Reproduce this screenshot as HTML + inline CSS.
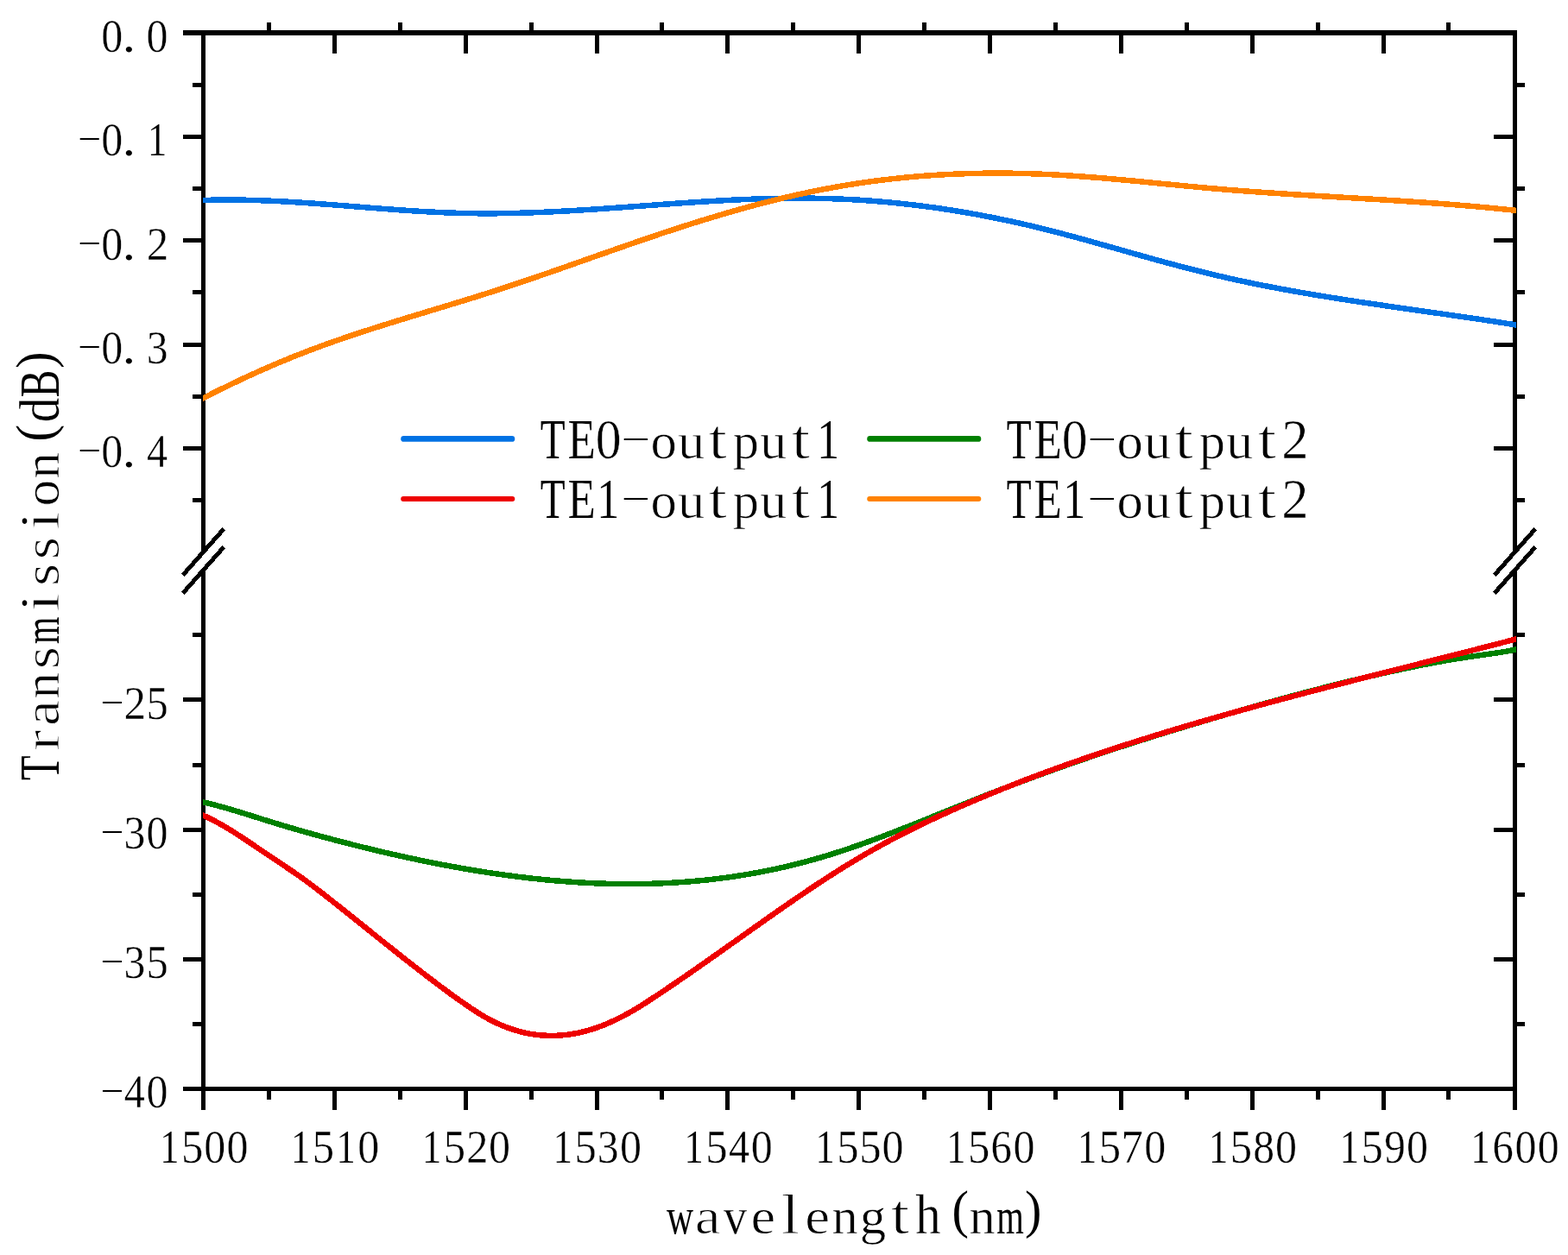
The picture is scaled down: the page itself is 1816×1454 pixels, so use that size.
<!DOCTYPE html>
<html lang="en"><head><meta charset="utf-8"><title>Transmission(dB) vs wavelength(nm)</title>
<style>html,body{margin:0;padding:0;background:#fff}body{width:1816px;height:1454px;overflow:hidden}svg{display:block}text{font-family:"Liberation Serif","Noto Serif CJK SC",serif;fill:#000}</style></head><body>
<svg width="1816" height="1454" viewBox="0 0 1816 1454" role="img" aria-label="Transmission(dB) versus wavelength(nm)">
<desc>Line chart with a broken y axis. x axis: wavelength(nm), 1500 to 1600. y axis: Transmission(dB), 0.0 to -0.4 and -25 to -40. Series: TE0-output1, TE0-output2, TE1-output1, TE1-output2.</desc>
<rect x="0" y="0" width="1816" height="1454" fill="#fff"/>
<g fill="#000" shape-rendering="crispEdges">
<rect x="233" y="35" width="1524" height="6"/>
<rect x="233" y="1259" width="1524" height="5"/>
<rect x="233" y="35" width="5" height="604.5"/>
<rect x="233" y="660.5" width="5" height="603.5"/>
<rect x="1752" y="35" width="5" height="604.5"/>
<rect x="1752" y="660.5" width="5" height="603.5"/>
<rect x="233" y="1264" width="5" height="22"/>
<rect x="233" y="41" width="5" height="21"/>
<rect x="309" y="1264" width="5" height="10"/>
<rect x="309" y="26" width="5" height="9"/>
<rect x="385" y="1264" width="5" height="22"/>
<rect x="385" y="41" width="5" height="21"/>
<rect x="461" y="1264" width="5" height="10"/>
<rect x="461" y="26" width="5" height="9"/>
<rect x="537" y="1264" width="5" height="22"/>
<rect x="537" y="41" width="5" height="21"/>
<rect x="613" y="1264" width="5" height="10"/>
<rect x="613" y="26" width="5" height="9"/>
<rect x="689" y="1264" width="5" height="22"/>
<rect x="689" y="41" width="5" height="21"/>
<rect x="764" y="1264" width="5" height="10"/>
<rect x="764" y="26" width="5" height="9"/>
<rect x="840" y="1264" width="5" height="22"/>
<rect x="840" y="41" width="5" height="21"/>
<rect x="916" y="1264" width="5" height="10"/>
<rect x="916" y="26" width="5" height="9"/>
<rect x="992" y="1264" width="5" height="22"/>
<rect x="992" y="41" width="5" height="21"/>
<rect x="1068" y="1264" width="5" height="10"/>
<rect x="1068" y="26" width="5" height="9"/>
<rect x="1144" y="1264" width="5" height="22"/>
<rect x="1144" y="41" width="5" height="21"/>
<rect x="1220" y="1264" width="5" height="10"/>
<rect x="1220" y="26" width="5" height="9"/>
<rect x="1296" y="1264" width="5" height="22"/>
<rect x="1296" y="41" width="5" height="21"/>
<rect x="1372" y="1264" width="5" height="10"/>
<rect x="1372" y="26" width="5" height="9"/>
<rect x="1448" y="1264" width="5" height="22"/>
<rect x="1448" y="41" width="5" height="21"/>
<rect x="1524" y="1264" width="5" height="10"/>
<rect x="1524" y="26" width="5" height="9"/>
<rect x="1600" y="1264" width="5" height="22"/>
<rect x="1600" y="41" width="5" height="21"/>
<rect x="1675" y="1264" width="5" height="10"/>
<rect x="1675" y="26" width="5" height="9"/>
<rect x="1752" y="1264" width="5" height="22"/>
<rect x="1752" y="41" width="5" height="21"/>
<rect x="212" y="35" width="21" height="6"/>
<rect x="1730" y="35" width="22" height="6"/>
<rect x="212" y="156" width="21" height="5"/>
<rect x="1730" y="156" width="22" height="5"/>
<rect x="212" y="276" width="21" height="5"/>
<rect x="1730" y="276" width="22" height="5"/>
<rect x="212" y="397" width="21" height="5"/>
<rect x="1730" y="397" width="22" height="5"/>
<rect x="212" y="517" width="21" height="5"/>
<rect x="1730" y="517" width="22" height="5"/>
<rect x="212" y="1259" width="21" height="5"/>
<rect x="1730" y="1259" width="22" height="5"/>
<rect x="212" y="1109" width="21" height="5"/>
<rect x="1730" y="1109" width="22" height="5"/>
<rect x="212" y="959" width="21" height="5"/>
<rect x="1730" y="959" width="22" height="5"/>
<rect x="212" y="808" width="21" height="5"/>
<rect x="1730" y="808" width="22" height="5"/>
<rect x="223" y="96" width="10" height="5"/>
<rect x="1757" y="96" width="9" height="5"/>
<rect x="223" y="216" width="10" height="5"/>
<rect x="1757" y="216" width="9" height="5"/>
<rect x="223" y="336" width="10" height="5"/>
<rect x="1757" y="336" width="9" height="5"/>
<rect x="223" y="457" width="10" height="5"/>
<rect x="1757" y="457" width="9" height="5"/>
<rect x="223" y="577" width="10" height="5"/>
<rect x="1757" y="577" width="9" height="5"/>
<rect x="223" y="1184" width="10" height="5"/>
<rect x="1757" y="1184" width="9" height="5"/>
<rect x="223" y="1034" width="10" height="5"/>
<rect x="1757" y="1034" width="9" height="5"/>
<rect x="223" y="884" width="10" height="5"/>
<rect x="1757" y="884" width="9" height="5"/>
<rect x="223" y="733" width="10" height="5"/>
<rect x="1757" y="733" width="9" height="5"/>
</g>
<g stroke="#000" stroke-width="5" stroke-linecap="butt" fill="none" shape-rendering="crispEdges">
<line x1="211.7" y1="666.35" x2="259.3" y2="612.65"/>
<line x1="211.7" y1="687.35" x2="259.3" y2="633.65"/>
<line x1="1730.7" y1="666.35" x2="1778.3" y2="612.65"/>
<line x1="1730.7" y1="687.35" x2="1778.3" y2="633.65"/>
</g>
<clipPath id="plotclip"><rect x="235" y="0" width="1521" height="1454"/></clipPath>
<g fill="none" stroke-width="6.5" stroke-linejoin="round" stroke-linecap="butt" shape-rendering="crispEdges" clip-path="url(#plotclip)">
<path stroke="#0072e4" d="M229,232.22 232,232.1 235,232 238,231.9 241,231.82 244,231.75 247,231.68 250,231.63 253,231.59 256,231.56 259,231.54 262,231.53 265,231.53 268,231.54 271,231.56 274,231.59 277,231.62 280,231.67 283,231.72 286,231.79 289,231.86 292,231.94 295,232.02 298,232.12 301,232.22 304,232.33 307,232.44 310,232.56 313,232.69 316,232.83 319,232.97 322,233.12 325,233.27 328,233.43 331,233.6 334,233.77 337,233.94 340,234.12 343,234.31 346,234.49 349,234.69 352,234.89 355,235.09 358,235.29 361,235.5 364,235.71 367,235.93 370,236.15 373,236.37 376,236.59 379,236.82 382,237.04 385,237.27 388,237.5 391,237.74 394,237.97 397,238.21 400,238.44 403,238.68 406,238.92 409,239.16 412,239.4 415,239.63 418,239.87 421,240.11 424,240.35 427,240.59 430,240.82 433,241.06 436,241.29 439,241.52 442,241.75 445,241.98 448,242.2 451,242.43 454,242.65 457,242.87 460,243.08 463,243.29 466,243.5 469,243.71 472,243.91 475,244.11 478,244.3 481,244.49 484,244.68 487,244.86 490,245.03 493,245.2 496,245.37 499,245.53 502,245.68 505,245.83 508,245.97 511,246.11 514,246.24 517,246.36 520,246.48 523,246.59 526,246.69 529,246.79 532,246.87 535,246.95 538,247.02 541,247.09 544,247.14 547,247.19 550,247.23 553,247.26 556,247.28 559,247.3 562,247.31 565,247.31 568,247.3 571,247.29 574,247.27 577,247.24 580,247.21 583,247.17 586,247.12 589,247.07 592,247.01 595,246.94 598,246.87 601,246.79 604,246.71 607,246.62 610,246.52 613,246.42 616,246.32 619,246.21 622,246.09 625,245.97 628,245.84 631,245.71 634,245.58 637,245.44 640,245.3 643,245.15 646,245 649,244.84 652,244.68 655,244.52 658,244.35 661,244.18 664,244.01 667,243.83 670,243.65 673,243.46 676,243.28 679,243.09 682,242.9 685,242.7 688,242.51 691,242.31 694,242.11 697,241.9 700,241.7 703,241.49 706,241.28 709,241.07 712,240.86 715,240.65 718,240.43 721,240.22 724,240 727,239.78 730,239.57 733,239.35 736,239.13 739,238.91 742,238.69 745,238.47 748,238.25 751,238.03 754,237.81 757,237.59 760,237.38 763,237.16 766,236.94 769,236.72 772,236.51 775,236.29 778,236.08 781,235.87 784,235.66 787,235.45 790,235.24 793,235.04 796,234.83 799,234.63 802,234.43 805,234.24 808,234.04 811,233.85 814,233.66 817,233.48 820,233.29 823,233.11 826,232.93 829,232.76 832,232.59 835,232.42 838,232.26 841,232.1 844,231.94 847,231.79 850,231.64 853,231.5 856,231.36 859,231.22 862,231.09 865,230.97 868,230.85 871,230.73 874,230.62 877,230.51 880,230.41 883,230.32 886,230.23 889,230.15 892,230.07 895,230 898,229.93 901,229.87 904,229.82 907,229.77 910,229.73 913,229.69 916,229.67 919,229.65 922,229.63 925,229.63 928,229.63 931,229.64 934,229.65 937,229.67 940,229.71 943,229.74 946,229.79 949,229.85 952,229.91 955,229.98 958,230.06 961,230.15 964,230.24 967,230.35 970,230.46 973,230.58 976,230.71 979,230.85 982,231 985,231.15 988,231.32 991,231.49 994,231.67 997,231.85 1000,232.05 1003,232.26 1006,232.47 1009,232.69 1012,232.92 1015,233.15 1018,233.4 1021,233.65 1024,233.91 1027,234.18 1030,234.46 1033,234.75 1036,235.04 1039,235.34 1042,235.65 1045,235.97 1048,236.3 1051,236.63 1054,236.97 1057,237.32 1060,237.68 1063,238.05 1066,238.42 1069,238.81 1072,239.2 1075,239.59 1078,240 1081,240.41 1084,240.84 1087,241.27 1090,241.7 1093,242.15 1096,242.6 1099,243.06 1102,243.53 1105,244.01 1108,244.5 1111,244.99 1114,245.49 1117,246 1120,246.51 1123,247.04 1126,247.57 1129,248.11 1132,248.65 1135,249.21 1138,249.77 1141,250.34 1144,250.92 1147,251.51 1150,252.1 1153,252.7 1156,253.31 1159,253.92 1162,254.55 1165,255.18 1168,255.82 1171,256.46 1174,257.12 1177,257.78 1180,258.45 1183,259.13 1186,259.81 1189,260.5 1192,261.2 1195,261.91 1198,262.62 1201,263.35 1204,264.07 1207,264.81 1210,265.56 1213,266.31 1216,267.07 1219,267.83 1222,268.6 1225,269.38 1228,270.16 1231,270.95 1234,271.75 1237,272.55 1240,273.35 1243,274.16 1246,274.98 1249,275.8 1252,276.62 1255,277.44 1258,278.27 1261,279.11 1264,279.94 1267,280.78 1270,281.62 1273,282.46 1276,283.31 1279,284.15 1282,285 1285,285.85 1288,286.7 1291,287.55 1294,288.4 1297,289.24 1300,290.09 1303,290.94 1306,291.79 1309,292.64 1312,293.49 1315,294.33 1318,295.17 1321,296.01 1324,296.85 1327,297.69 1330,298.53 1333,299.36 1336,300.19 1339,301.01 1342,301.84 1345,302.66 1348,303.48 1351,304.29 1354,305.1 1357,305.91 1360,306.71 1363,307.51 1366,308.3 1369,309.09 1372,309.87 1375,310.65 1378,311.43 1381,312.19 1384,312.96 1387,313.71 1390,314.47 1393,315.21 1396,315.95 1399,316.68 1402,317.41 1405,318.13 1408,318.84 1411,319.55 1414,320.25 1417,320.94 1420,321.62 1423,322.3 1426,322.97 1429,323.64 1432,324.3 1435,324.95 1438,325.59 1441,326.23 1444,326.87 1447,327.49 1450,328.12 1453,328.73 1456,329.34 1459,329.94 1462,330.54 1465,331.14 1468,331.72 1471,332.31 1474,332.88 1477,333.46 1480,334.02 1483,334.58 1486,335.14 1489,335.69 1492,336.24 1495,336.78 1498,337.32 1501,337.86 1504,338.39 1507,338.91 1510,339.43 1513,339.95 1516,340.46 1519,340.97 1522,341.48 1525,341.98 1528,342.48 1531,342.97 1534,343.46 1537,343.95 1540,344.44 1543,344.92 1546,345.39 1549,345.87 1552,346.34 1555,346.81 1558,347.28 1561,347.74 1564,348.2 1567,348.66 1570,349.12 1573,349.57 1576,350.03 1579,350.48 1582,350.92 1585,351.37 1588,351.81 1591,352.26 1594,352.7 1597,353.14 1600,353.57 1603,354.01 1606,354.45 1609,354.88 1612,355.31 1615,355.74 1618,356.17 1621,356.6 1624,357.03 1627,357.46 1630,357.89 1633,358.32 1636,358.74 1639,359.17 1642,359.59 1645,360.02 1648,360.45 1651,360.87 1654,361.3 1657,361.72 1660,362.15 1663,362.58 1666,363 1669,363.43 1672,363.86 1675,364.29 1678,364.72 1681,365.15 1684,365.58 1687,366.02 1690,366.45 1693,366.89 1696,367.32 1699,367.76 1702,368.2 1705,368.64 1708,369.08 1711,369.53 1714,369.98 1717,370.42 1720,370.88 1723,371.33 1726,371.78 1729,372.24 1732,372.7 1735,373.16 1738,373.63 1741,374.1 1744,374.57 1747,375.04 1750,375.52 1753,376 1756,376.48 1759,376.96 1762,377.45"/>
<path stroke="#008000" d="M229,928.01 232,928.64 235,929.3 238,929.98 241,930.69 244,931.43 247,932.18 250,932.96 253,933.76 256,934.58 259,935.41 262,936.26 265,937.13 268,938 271,938.9 274,939.8 277,940.71 280,941.63 283,942.56 286,943.49 289,944.43 292,945.37 295,946.31 298,947.26 301,948.2 304,949.14 307,950.08 310,951.01 313,951.94 316,952.87 319,953.78 322,954.69 325,955.6 328,956.49 331,957.39 334,958.27 337,959.15 340,960.03 343,960.9 346,961.76 349,962.62 352,963.47 355,964.32 358,965.16 361,966 364,966.83 367,967.66 370,968.48 373,969.3 376,970.11 379,970.92 382,971.72 385,972.52 388,973.31 391,974.1 394,974.89 397,975.67 400,976.44 403,977.22 406,977.98 409,978.74 412,979.5 415,980.25 418,981 421,981.74 424,982.48 427,983.21 430,983.94 433,984.66 436,985.38 439,986.09 442,986.8 445,987.5 448,988.2 451,988.89 454,989.57 457,990.25 460,990.93 463,991.6 466,992.26 469,992.92 472,993.58 475,994.22 478,994.87 481,995.5 484,996.13 487,996.76 490,997.38 493,997.99 496,998.6 499,999.2 502,999.8 505,1000.39 508,1000.97 511,1001.55 514,1002.12 517,1002.69 520,1003.25 523,1003.8 526,1004.35 529,1004.89 532,1005.42 535,1005.95 538,1006.47 541,1006.99 544,1007.5 547,1008 550,1008.49 553,1008.98 556,1009.47 559,1009.94 562,1010.41 565,1010.87 568,1011.33 571,1011.78 574,1012.22 577,1012.65 580,1013.08 583,1013.5 586,1013.91 589,1014.32 592,1014.72 595,1015.11 598,1015.49 601,1015.87 604,1016.23 607,1016.59 610,1016.95 613,1017.29 616,1017.63 619,1017.96 622,1018.28 625,1018.59 628,1018.9 631,1019.2 634,1019.49 637,1019.77 640,1020.04 643,1020.31 646,1020.56 649,1020.81 652,1021.05 655,1021.28 658,1021.51 661,1021.72 664,1021.92 667,1022.12 670,1022.31 673,1022.49 676,1022.66 679,1022.82 682,1022.97 685,1023.12 688,1023.25 691,1023.37 694,1023.49 697,1023.6 700,1023.69 703,1023.78 706,1023.86 709,1023.93 712,1023.99 715,1024.04 718,1024.08 721,1024.11 724,1024.13 727,1024.14 730,1024.14 733,1024.13 736,1024.11 739,1024.09 742,1024.05 745,1024 748,1023.94 751,1023.87 754,1023.79 757,1023.7 760,1023.6 763,1023.49 766,1023.37 769,1023.23 772,1023.09 775,1022.94 778,1022.77 781,1022.6 784,1022.41 787,1022.22 790,1022.01 793,1021.79 796,1021.56 799,1021.32 802,1021.07 805,1020.8 808,1020.53 811,1020.24 814,1019.94 817,1019.64 820,1019.32 823,1018.98 826,1018.64 829,1018.28 832,1017.92 835,1017.54 838,1017.15 841,1016.75 844,1016.33 847,1015.91 850,1015.47 853,1015.02 856,1014.55 859,1014.08 862,1013.59 865,1013.09 868,1012.58 871,1012.06 874,1011.52 877,1010.97 880,1010.41 883,1009.83 886,1009.25 889,1008.65 892,1008.03 895,1007.41 898,1006.77 901,1006.12 904,1005.45 907,1004.77 910,1004.08 913,1003.38 916,1002.66 919,1001.93 922,1001.19 925,1000.43 928,999.66 931,998.87 934,998.07 937,997.26 940,996.44 943,995.6 946,994.74 949,993.88 952,993 955,992.1 958,991.19 961,990.27 964,989.33 967,988.39 970,987.42 973,986.45 976,985.47 979,984.47 982,983.46 985,982.44 988,981.41 991,980.37 994,979.32 997,978.25 1000,977.18 1003,976.1 1006,975.01 1009,973.92 1012,972.81 1015,971.7 1018,970.58 1021,969.45 1024,968.31 1027,967.17 1030,966.02 1033,964.86 1036,963.7 1039,962.54 1042,961.36 1045,960.19 1048,959.01 1051,957.82 1054,956.63 1057,955.44 1060,954.24 1063,953.04 1066,951.84 1069,950.63 1072,949.43 1075,948.22 1078,947.01 1081,945.8 1084,944.59 1087,943.37 1090,942.16 1093,940.95 1096,939.74 1099,938.52 1102,937.31 1105,936.1 1108,934.9 1111,933.69 1114,932.49 1117,931.29 1120,930.09 1123,928.89 1126,927.7 1129,926.5 1132,925.31 1135,924.13 1138,922.94 1141,921.76 1144,920.58 1147,919.41 1150,918.23 1153,917.06 1156,915.9 1159,914.73 1162,913.57 1165,912.42 1168,911.26 1171,910.11 1174,908.97 1177,907.82 1180,906.69 1183,905.55 1186,904.42 1189,903.29 1192,902.17 1195,901.05 1198,899.94 1201,898.83 1204,897.72 1207,896.62 1210,895.53 1213,894.44 1216,893.35 1219,892.27 1222,891.19 1225,890.12 1228,889.05 1231,887.98 1234,886.92 1237,885.86 1240,884.81 1243,883.77 1246,882.72 1249,881.68 1252,880.65 1255,879.62 1258,878.59 1261,877.56 1264,876.54 1267,875.53 1270,874.52 1273,873.51 1276,872.5 1279,871.5 1282,870.51 1285,869.51 1288,868.52 1291,867.54 1294,866.55 1297,865.57 1300,864.6 1303,863.62 1306,862.65 1309,861.69 1312,860.72 1315,859.76 1318,858.81 1321,857.85 1324,856.9 1327,855.96 1330,855.01 1333,854.07 1336,853.13 1339,852.19 1342,851.26 1345,850.33 1348,849.4 1351,848.48 1354,847.55 1357,846.63 1360,845.72 1363,844.8 1366,843.89 1369,842.98 1372,842.07 1375,841.17 1378,840.26 1381,839.36 1384,838.46 1387,837.57 1390,836.67 1393,835.78 1396,834.89 1399,834 1402,833.12 1405,832.23 1408,831.35 1411,830.47 1414,829.59 1417,828.72 1420,827.84 1423,826.97 1426,826.1 1429,825.23 1432,824.36 1435,823.5 1438,822.64 1441,821.78 1444,820.92 1447,820.06 1450,819.21 1453,818.36 1456,817.51 1459,816.67 1462,815.82 1465,814.98 1468,814.15 1471,813.31 1474,812.48 1477,811.65 1480,810.82 1483,810 1486,809.18 1489,808.36 1492,807.54 1495,806.73 1498,805.92 1501,805.11 1504,804.31 1507,803.51 1510,802.72 1513,801.92 1516,801.13 1519,800.34 1522,799.56 1525,798.78 1528,798 1531,797.23 1534,796.46 1537,795.7 1540,794.93 1543,794.17 1546,793.42 1549,792.67 1552,791.92 1555,791.18 1558,790.44 1561,789.7 1564,788.97 1567,788.24 1570,787.52 1573,786.8 1576,786.08 1579,785.37 1582,784.66 1585,783.96 1588,783.26 1591,782.57 1594,781.87 1597,781.19 1600,780.51 1603,779.83 1606,779.16 1609,778.49 1612,777.83 1615,777.17 1618,776.51 1621,775.87 1624,775.22 1627,774.58 1630,773.95 1633,773.33 1636,772.71 1639,772.09 1642,771.48 1645,770.88 1648,770.29 1651,769.7 1654,769.12 1657,768.54 1660,767.98 1663,767.42 1666,766.87 1669,766.33 1672,765.8 1675,765.27 1678,764.75 1681,764.25 1684,763.75 1687,763.26 1690,762.78 1693,762.31 1696,761.85 1699,761.4 1702,760.96 1705,760.53 1708,760.1 1711,759.68 1714,759.26 1717,758.85 1720,758.43 1723,758 1726,757.57 1729,757.13 1732,756.68 1735,756.21 1738,755.73 1741,755.24 1744,754.72 1747,754.18 1750,753.62 1753,753.03 1756,752.41 1759,751.76 1762,751.07"/>
<path stroke="#ee0000" d="M229,942 232,943.21 235,944.5 238,945.85 241,947.27 244,948.74 247,950.27 250,951.86 253,953.49 256,955.18 259,956.91 262,958.68 265,960.49 268,962.33 271,964.21 274,966.12 277,968.05 280,970.01 283,971.99 286,973.98 289,975.99 292,978.01 295,980.04 298,982.08 301,984.12 304,986.16 307,988.19 310,990.22 313,992.24 316,994.24 319,996.25 322,998.25 325,1000.25 328,1002.25 331,1004.26 334,1006.29 337,1008.32 340,1010.38 343,1012.45 346,1014.55 349,1016.67 352,1018.83 355,1021.02 358,1023.24 361,1025.48 364,1027.74 367,1030.03 370,1032.34 373,1034.66 376,1037 379,1039.36 382,1041.72 385,1044.09 388,1046.47 391,1048.85 394,1051.24 397,1053.63 400,1056.02 403,1058.42 406,1060.82 409,1063.22 412,1065.63 415,1068.03 418,1070.44 421,1072.84 424,1075.25 427,1077.65 430,1080.06 433,1082.47 436,1084.87 439,1087.27 442,1089.67 445,1092.07 448,1094.47 451,1096.86 454,1099.25 457,1101.63 460,1104.01 463,1106.39 466,1108.76 469,1111.13 472,1113.49 475,1115.84 478,1118.19 481,1120.53 484,1122.86 487,1125.19 490,1127.5 493,1129.81 496,1132.11 499,1134.4 502,1136.69 505,1138.96 508,1141.22 511,1143.47 514,1145.7 517,1147.92 520,1150.13 523,1152.31 526,1154.49 529,1156.64 532,1158.77 535,1160.88 538,1162.97 541,1165.04 544,1167.08 547,1169.09 550,1171.06 553,1172.99 556,1174.86 559,1176.68 562,1178.43 565,1180.11 568,1181.72 571,1183.26 574,1184.73 577,1186.12 580,1187.45 583,1188.71 586,1189.9 589,1191.02 592,1192.07 595,1193.06 598,1193.97 601,1194.82 604,1195.61 607,1196.32 610,1196.97 613,1197.55 616,1198.07 619,1198.52 622,1198.91 625,1199.23 628,1199.49 631,1199.68 634,1199.82 637,1199.88 640,1199.89 643,1199.83 646,1199.71 649,1199.52 652,1199.28 655,1198.97 658,1198.61 661,1198.18 664,1197.69 667,1197.15 670,1196.54 673,1195.87 676,1195.15 679,1194.36 682,1193.52 685,1192.62 688,1191.66 691,1190.65 694,1189.58 697,1188.45 700,1187.27 703,1186.03 706,1184.74 709,1183.4 712,1182 715,1180.55 718,1179.06 721,1177.52 724,1175.92 727,1174.29 730,1172.6 733,1170.87 736,1169.1 739,1167.29 742,1165.43 745,1163.54 748,1161.62 751,1159.67 754,1157.71 757,1155.74 760,1153.76 763,1151.77 766,1149.77 769,1147.76 772,1145.75 775,1143.73 778,1141.7 781,1139.66 784,1137.62 787,1135.57 790,1133.51 793,1131.45 796,1129.38 799,1127.3 802,1125.23 805,1123.14 808,1121.05 811,1118.96 814,1116.86 817,1114.76 820,1112.65 823,1110.54 826,1108.43 829,1106.32 832,1104.2 835,1102.08 838,1099.95 841,1097.83 844,1095.71 847,1093.58 850,1091.45 853,1089.32 856,1087.19 859,1085.06 862,1082.93 865,1080.8 868,1078.68 871,1076.55 874,1074.42 877,1072.3 880,1070.18 883,1068.06 886,1065.95 889,1063.83 892,1061.72 895,1059.62 898,1057.52 901,1055.42 904,1053.33 907,1051.24 910,1049.16 913,1047.08 916,1045.01 919,1042.95 922,1040.89 925,1038.84 928,1036.8 931,1034.77 934,1032.74 937,1030.72 940,1028.71 943,1026.71 946,1024.72 949,1022.74 952,1020.77 955,1018.81 958,1016.86 961,1014.93 964,1013 967,1011.08 970,1009.18 973,1007.29 976,1005.41 979,1003.55 982,1001.7 985,999.86 988,998.03 991,996.23 994,994.43 997,992.65 1000,990.89 1003,989.14 1006,987.41 1009,985.69 1012,983.99 1015,982.3 1018,980.63 1021,978.98 1024,977.34 1027,975.71 1030,974.1 1033,972.51 1036,970.92 1039,969.35 1042,967.79 1045,966.25 1048,964.72 1051,963.2 1054,961.69 1057,960.2 1060,958.71 1063,957.24 1066,955.78 1069,954.33 1072,952.89 1075,951.46 1078,950.05 1081,948.64 1084,947.24 1087,945.85 1090,944.47 1093,943.1 1096,941.73 1099,940.38 1102,939.03 1105,937.69 1108,936.36 1111,935.04 1114,933.72 1117,932.41 1120,931.11 1123,929.82 1126,928.53 1129,927.25 1132,925.98 1135,924.71 1138,923.45 1141,922.2 1144,920.95 1147,919.71 1150,918.48 1153,917.25 1156,916.03 1159,914.82 1162,913.61 1165,912.41 1168,911.22 1171,910.03 1174,908.85 1177,907.67 1180,906.5 1183,905.34 1186,904.18 1189,903.03 1192,901.88 1195,900.74 1198,899.61 1201,898.48 1204,897.35 1207,896.24 1210,895.12 1213,894.02 1216,892.92 1219,891.82 1222,890.73 1225,889.64 1228,888.56 1231,887.49 1234,886.42 1237,885.35 1240,884.29 1243,883.24 1246,882.19 1249,881.14 1252,880.1 1255,879.07 1258,878.03 1261,877.01 1264,875.98 1267,874.97 1270,873.95 1273,872.94 1276,871.94 1279,870.94 1282,869.94 1285,868.95 1288,867.96 1291,866.97 1294,865.99 1297,865.02 1300,864.04 1303,863.07 1306,862.11 1309,861.15 1312,860.19 1315,859.23 1318,858.28 1321,857.34 1324,856.39 1327,855.45 1330,854.51 1333,853.58 1336,852.65 1339,851.72 1342,850.8 1345,849.88 1348,848.96 1351,848.05 1354,847.14 1357,846.23 1360,845.32 1363,844.42 1366,843.52 1369,842.63 1372,841.74 1375,840.85 1378,839.96 1381,839.07 1384,838.19 1387,837.32 1390,836.44 1393,835.57 1396,834.7 1399,833.83 1402,832.96 1405,832.1 1408,831.24 1411,830.39 1414,829.53 1417,828.68 1420,827.83 1423,826.98 1426,826.14 1429,825.29 1432,824.45 1435,823.62 1438,822.78 1441,821.95 1444,821.12 1447,820.29 1450,819.46 1453,818.64 1456,817.81 1459,816.99 1462,816.17 1465,815.36 1468,814.54 1471,813.73 1474,812.92 1477,812.11 1480,811.3 1483,810.49 1486,809.69 1489,808.89 1492,808.09 1495,807.29 1498,806.49 1501,805.7 1504,804.9 1507,804.11 1510,803.32 1513,802.53 1516,801.74 1519,800.95 1522,800.17 1525,799.38 1528,798.6 1531,797.82 1534,797.04 1537,796.26 1540,795.48 1543,794.7 1546,793.93 1549,793.15 1552,792.38 1555,791.6 1558,790.83 1561,790.06 1564,789.29 1567,788.52 1570,787.75 1573,786.99 1576,786.22 1579,785.45 1582,784.69 1585,783.92 1588,783.16 1591,782.4 1594,781.63 1597,780.87 1600,780.11 1603,779.35 1606,778.59 1609,777.83 1612,777.07 1615,776.31 1618,775.55 1621,774.79 1624,774.03 1627,773.27 1630,772.51 1633,771.75 1636,770.99 1639,770.24 1642,769.48 1645,768.72 1648,767.96 1651,767.2 1654,766.45 1657,765.69 1660,764.93 1663,764.17 1666,763.41 1669,762.65 1672,761.89 1675,761.13 1678,760.37 1681,759.61 1684,758.85 1687,758.09 1690,757.33 1693,756.57 1696,755.8 1699,755.04 1702,754.28 1705,753.51 1708,752.75 1711,751.98 1714,751.22 1717,750.45 1720,749.68 1723,748.91 1726,748.14 1729,747.37 1732,746.6 1735,745.83 1738,745.05 1741,744.28 1744,743.5 1747,742.73 1750,741.95 1753,741.17 1756,740.39 1759,739.61 1762,738.83"/>
<path stroke="#ff8200" d="M229,464.64 232,463.08 235,461.52 238,459.97 241,458.43 244,456.9 247,455.38 250,453.88 253,452.38 256,450.89 259,449.4 262,447.93 265,446.47 268,445.02 271,443.58 274,442.15 277,440.73 280,439.32 283,437.91 286,436.52 289,435.14 292,433.77 295,432.41 298,431.06 301,429.72 304,428.38 307,427.06 310,425.75 313,424.45 316,423.16 319,421.88 322,420.61 325,419.35 328,418.1 331,416.86 334,415.63 337,414.41 340,413.2 343,412.01 346,410.82 349,409.64 352,408.48 355,407.32 358,406.17 361,405.04 364,403.91 367,402.8 370,401.69 373,400.59 376,399.5 379,398.42 382,397.35 385,396.29 388,395.23 391,394.18 394,393.14 397,392.11 400,391.08 403,390.06 406,389.05 409,388.04 412,387.04 415,386.05 418,385.06 421,384.08 424,383.1 427,382.13 430,381.17 433,380.2 436,379.25 439,378.29 442,377.34 445,376.4 448,375.46 451,374.52 454,373.59 457,372.66 460,371.73 463,370.8 466,369.88 469,368.96 472,368.04 475,367.13 478,366.21 481,365.3 484,364.39 487,363.48 490,362.57 493,361.66 496,360.75 499,359.84 502,358.94 505,358.03 508,357.12 511,356.21 514,355.3 517,354.39 520,353.48 523,352.57 526,351.65 529,350.74 532,349.82 535,348.9 538,347.98 541,347.05 544,346.13 547,345.2 550,344.26 553,343.33 556,342.39 559,341.44 562,340.49 565,339.54 568,338.58 571,337.62 574,336.66 577,335.69 580,334.71 583,333.73 586,332.75 589,331.76 592,330.76 595,329.77 598,328.76 601,327.76 604,326.75 607,325.74 610,324.72 613,323.7 616,322.67 619,321.65 622,320.62 625,319.59 628,318.55 631,317.51 634,316.48 637,315.43 640,314.39 643,313.34 646,312.3 649,311.25 652,310.2 655,309.14 658,308.09 661,307.04 664,305.98 667,304.93 670,303.87 673,302.81 676,301.75 679,300.7 682,299.64 685,298.58 688,297.52 691,296.47 694,295.41 697,294.35 700,293.3 703,292.25 706,291.19 709,290.14 712,289.09 715,288.04 718,286.99 721,285.95 724,284.9 727,283.86 730,282.82 733,281.79 736,280.75 739,279.72 742,278.69 745,277.66 748,276.64 751,275.62 754,274.61 757,273.59 760,272.58 763,271.58 766,270.58 769,269.58 772,268.58 775,267.59 778,266.61 781,265.63 784,264.65 787,263.68 790,262.71 793,261.74 796,260.78 799,259.83 802,258.88 805,257.94 808,257 811,256.06 814,255.13 817,254.21 820,253.29 823,252.38 826,251.47 829,250.57 832,249.67 835,248.78 838,247.9 841,247.02 844,246.15 847,245.29 850,244.43 853,243.57 856,242.73 859,241.89 862,241.06 865,240.23 868,239.41 871,238.6 874,237.79 877,237 880,236.2 883,235.42 886,234.65 889,233.88 892,233.12 895,232.36 898,231.62 901,230.88 904,230.15 907,229.43 910,228.72 913,228.01 916,227.32 919,226.63 922,225.95 925,225.28 928,224.62 931,223.96 934,223.32 937,222.68 940,222.06 943,221.44 946,220.83 949,220.23 952,219.64 955,219.06 958,218.49 961,217.93 964,217.38 967,216.84 970,216.31 973,215.79 976,215.27 979,214.77 982,214.28 985,213.79 988,213.32 991,212.85 994,212.39 997,211.94 1000,211.51 1003,211.08 1006,210.66 1009,210.24 1012,209.84 1015,209.45 1018,209.07 1021,208.69 1024,208.32 1027,207.97 1030,207.62 1033,207.28 1036,206.95 1039,206.63 1042,206.31 1045,206.01 1048,205.71 1051,205.42 1054,205.15 1057,204.88 1060,204.62 1063,204.36 1066,204.12 1069,203.88 1072,203.66 1075,203.44 1078,203.23 1081,203.03 1084,202.83 1087,202.65 1090,202.47 1093,202.3 1096,202.14 1099,201.99 1102,201.85 1105,201.71 1108,201.58 1111,201.46 1114,201.35 1117,201.25 1120,201.15 1123,201.07 1126,200.99 1129,200.92 1132,200.85 1135,200.8 1138,200.75 1141,200.71 1144,200.68 1147,200.65 1150,200.64 1153,200.63 1156,200.63 1159,200.63 1162,200.65 1165,200.67 1168,200.7 1171,200.73 1174,200.78 1177,200.83 1180,200.89 1183,200.96 1186,201.03 1189,201.11 1192,201.2 1195,201.3 1198,201.4 1201,201.51 1204,201.63 1207,201.75 1210,201.88 1213,202.02 1216,202.17 1219,202.32 1222,202.48 1225,202.65 1228,202.82 1231,203 1234,203.18 1237,203.37 1240,203.56 1243,203.76 1246,203.97 1249,204.18 1252,204.4 1255,204.62 1258,204.84 1261,205.07 1264,205.31 1267,205.55 1270,205.79 1273,206.04 1276,206.29 1279,206.54 1282,206.8 1285,207.06 1288,207.32 1291,207.59 1294,207.86 1297,208.13 1300,208.41 1303,208.69 1306,208.96 1309,209.25 1312,209.53 1315,209.81 1318,210.1 1321,210.39 1324,210.68 1327,210.97 1330,211.26 1333,211.55 1336,211.84 1339,212.14 1342,212.43 1345,212.72 1348,213.02 1351,213.31 1354,213.6 1357,213.9 1360,214.19 1363,214.48 1366,214.77 1369,215.06 1372,215.35 1375,215.63 1378,215.92 1381,216.2 1384,216.48 1387,216.76 1390,217.04 1393,217.31 1396,217.58 1399,217.85 1402,218.12 1405,218.38 1408,218.64 1411,218.9 1414,219.16 1417,219.41 1420,219.65 1423,219.9 1426,220.14 1429,220.38 1432,220.62 1435,220.85 1438,221.08 1441,221.31 1444,221.53 1447,221.75 1450,221.98 1453,222.19 1456,222.41 1459,222.62 1462,222.83 1465,223.04 1468,223.25 1471,223.46 1474,223.66 1477,223.86 1480,224.06 1483,224.26 1486,224.45 1489,224.65 1492,224.84 1495,225.04 1498,225.23 1501,225.42 1504,225.6 1507,225.79 1510,225.98 1513,226.16 1516,226.35 1519,226.53 1522,226.71 1525,226.89 1528,227.07 1531,227.25 1534,227.43 1537,227.61 1540,227.79 1543,227.97 1546,228.15 1549,228.32 1552,228.5 1555,228.68 1558,228.86 1561,229.04 1564,229.21 1567,229.39 1570,229.57 1573,229.75 1576,229.93 1579,230.11 1582,230.29 1585,230.47 1588,230.65 1591,230.83 1594,231.01 1597,231.2 1600,231.38 1603,231.57 1606,231.75 1609,231.94 1612,232.13 1615,232.32 1618,232.51 1621,232.7 1624,232.9 1627,233.09 1630,233.29 1633,233.49 1636,233.69 1639,233.89 1642,234.1 1645,234.3 1648,234.51 1651,234.72 1654,234.93 1657,235.15 1660,235.36 1663,235.58 1666,235.8 1669,236.03 1672,236.26 1675,236.48 1678,236.72 1681,236.95 1684,237.19 1687,237.43 1690,237.67 1693,237.92 1696,238.17 1699,238.42 1702,238.67 1705,238.93 1708,239.2 1711,239.46 1714,239.73 1717,240 1720,240.28 1723,240.56 1726,240.84 1729,241.13 1732,241.42 1735,241.72 1738,242.01 1741,242.32 1744,242.62 1747,242.94 1750,243.25 1753,243.57 1756,243.9 1759,244.23 1762,244.56"/>
</g>
<g fill="none" stroke-linecap="round">
<line x1="467.65" y1="508.4" x2="592.85" y2="508.4" stroke="#0072e4" stroke-width="6.9"/>
<line x1="467.15" y1="578" x2="593.35" y2="578" stroke="#ee0000" stroke-width="5.9"/>
<line x1="1007.65" y1="508.4" x2="1132.85" y2="508.4" stroke="#008000" stroke-width="6.9"/>
<line x1="1007.15" y1="578" x2="1133.35" y2="578" stroke="#ff8200" stroke-width="5.9"/>
</g>
<text aria-label="TE0-output1" font-size="64.5" y="531" stroke="#fff" stroke-width="0"><tspan x="625.85" y="531" textLength="28.84" lengthAdjust="spacingAndGlyphs">T</tspan><tspan x="657.47" y="531" stroke-width="0.2" textLength="32.37" lengthAdjust="spacingAndGlyphs">E</tspan><tspan x="689.63" y="531" stroke-width="0.5" textLength="29.85" lengthAdjust="spacingAndGlyphs">0</tspan><tspan x="718.89" y="515.01" font-size="26.77" textLength="35.13" lengthAdjust="spacingAndGlyphs">-</tspan><tspan x="753.59" y="531" font-size="60.18" stroke-width="0.68" textLength="30.32" lengthAdjust="spacingAndGlyphs">o</tspan><tspan x="784.98" y="531" font-size="60.18" stroke-width="0.75" textLength="31.19" lengthAdjust="spacingAndGlyphs">u</tspan><tspan x="820.37" y="531" stroke-width="1.13" textLength="21.86" lengthAdjust="spacingAndGlyphs">t</tspan><tspan x="848.82" y="531" font-size="60.18" stroke-width="0.68" textLength="30.35" lengthAdjust="spacingAndGlyphs">p</tspan><tspan x="880.18" y="531" font-size="60.18" stroke-width="0.74" textLength="30.98" lengthAdjust="spacingAndGlyphs">u</tspan><tspan x="916.52" y="531" stroke-width="1.13" textLength="21.86" lengthAdjust="spacingAndGlyphs">t</tspan><tspan x="946.36" y="531" stroke-width="0.15" textLength="25.85" lengthAdjust="spacingAndGlyphs">1</tspan></text>
<text aria-label="TE0-output2" font-size="64.5" y="531" stroke="#fff" stroke-width="0"><tspan x="1165.85" y="531" textLength="28.84" lengthAdjust="spacingAndGlyphs">T</tspan><tspan x="1197.47" y="531" stroke-width="0.2" textLength="32.37" lengthAdjust="spacingAndGlyphs">E</tspan><tspan x="1229.63" y="531" stroke-width="0.5" textLength="29.85" lengthAdjust="spacingAndGlyphs">0</tspan><tspan x="1258.89" y="515.01" font-size="26.77" textLength="35.13" lengthAdjust="spacingAndGlyphs">-</tspan><tspan x="1293.59" y="531" font-size="60.18" stroke-width="0.68" textLength="30.32" lengthAdjust="spacingAndGlyphs">o</tspan><tspan x="1324.98" y="531" font-size="60.18" stroke-width="0.75" textLength="31.19" lengthAdjust="spacingAndGlyphs">u</tspan><tspan x="1360.37" y="531" stroke-width="1.13" textLength="21.86" lengthAdjust="spacingAndGlyphs">t</tspan><tspan x="1388.82" y="531" font-size="60.18" stroke-width="0.68" textLength="30.35" lengthAdjust="spacingAndGlyphs">p</tspan><tspan x="1420.18" y="531" font-size="60.18" stroke-width="0.74" textLength="30.98" lengthAdjust="spacingAndGlyphs">u</tspan><tspan x="1456.52" y="531" stroke-width="1.13" textLength="21.86" lengthAdjust="spacingAndGlyphs">t</tspan><tspan x="1484.15" y="531" stroke-width="0.62" textLength="31.31" lengthAdjust="spacingAndGlyphs">2</tspan></text>
<text aria-label="TE1-output1" font-size="64.5" y="600" stroke="#fff" stroke-width="0"><tspan x="625.85" y="600" textLength="28.84" lengthAdjust="spacingAndGlyphs">T</tspan><tspan x="657.47" y="600" stroke-width="0.2" textLength="32.37" lengthAdjust="spacingAndGlyphs">E</tspan><tspan x="691.23" y="600" stroke-width="0.16" textLength="25.99" lengthAdjust="spacingAndGlyphs">1</tspan><tspan x="718.89" y="584.01" font-size="26.77" textLength="35.13" lengthAdjust="spacingAndGlyphs">-</tspan><tspan x="753.59" y="600" font-size="60.18" stroke-width="0.68" textLength="30.32" lengthAdjust="spacingAndGlyphs">o</tspan><tspan x="784.98" y="600" font-size="60.18" stroke-width="0.75" textLength="31.19" lengthAdjust="spacingAndGlyphs">u</tspan><tspan x="820.37" y="600" stroke-width="1.13" textLength="21.86" lengthAdjust="spacingAndGlyphs">t</tspan><tspan x="848.82" y="600" font-size="60.18" stroke-width="0.68" textLength="30.35" lengthAdjust="spacingAndGlyphs">p</tspan><tspan x="880.18" y="600" font-size="60.18" stroke-width="0.74" textLength="30.98" lengthAdjust="spacingAndGlyphs">u</tspan><tspan x="916.52" y="600" stroke-width="1.13" textLength="21.86" lengthAdjust="spacingAndGlyphs">t</tspan><tspan x="946.36" y="600" stroke-width="0.15" textLength="25.85" lengthAdjust="spacingAndGlyphs">1</tspan></text>
<text aria-label="TE1-output2" font-size="64.5" y="600" stroke="#fff" stroke-width="0"><tspan x="1165.85" y="600" textLength="28.84" lengthAdjust="spacingAndGlyphs">T</tspan><tspan x="1197.47" y="600" stroke-width="0.2" textLength="32.37" lengthAdjust="spacingAndGlyphs">E</tspan><tspan x="1231.23" y="600" stroke-width="0.16" textLength="25.99" lengthAdjust="spacingAndGlyphs">1</tspan><tspan x="1258.89" y="584.01" font-size="26.77" textLength="35.13" lengthAdjust="spacingAndGlyphs">-</tspan><tspan x="1293.59" y="600" font-size="60.18" stroke-width="0.68" textLength="30.32" lengthAdjust="spacingAndGlyphs">o</tspan><tspan x="1324.98" y="600" font-size="60.18" stroke-width="0.75" textLength="31.19" lengthAdjust="spacingAndGlyphs">u</tspan><tspan x="1360.37" y="600" stroke-width="1.13" textLength="21.86" lengthAdjust="spacingAndGlyphs">t</tspan><tspan x="1388.82" y="600" font-size="60.18" stroke-width="0.68" textLength="30.35" lengthAdjust="spacingAndGlyphs">p</tspan><tspan x="1420.18" y="600" font-size="60.18" stroke-width="0.74" textLength="30.98" lengthAdjust="spacingAndGlyphs">u</tspan><tspan x="1456.52" y="600" stroke-width="1.13" textLength="21.86" lengthAdjust="spacingAndGlyphs">t</tspan><tspan x="1484.15" y="600" stroke-width="0.62" textLength="31.31" lengthAdjust="spacingAndGlyphs">2</tspan></text>
<text aria-label="wavelength(nm)" font-size="64.5" y="1428.8" stroke="#fff" stroke-width="0"><tspan x="771.96" y="1428.8" font-size="60.18" textLength="31.13" lengthAdjust="spacingAndGlyphs">w</tspan><tspan x="804.87" y="1428.8" font-size="60.18" stroke-width="0.97" textLength="29.92" lengthAdjust="spacingAndGlyphs">a</tspan><tspan x="838" y="1428.8" font-size="60.18" stroke-width="0.39" textLength="27" lengthAdjust="spacingAndGlyphs">v</tspan><tspan x="869.48" y="1428.8" font-size="60.18" stroke-width="0.85" textLength="28.66" lengthAdjust="spacingAndGlyphs">e</tspan><tspan x="904.57" y="1428.8" stroke-width="1.13" textLength="21.86" lengthAdjust="spacingAndGlyphs">l</tspan><tspan x="932.26" y="1428.8" font-size="60.18" stroke-width="0.87" textLength="28.9" lengthAdjust="spacingAndGlyphs">e</tspan><tspan x="963.61" y="1428.8" font-size="60.18" stroke-width="0.67" textLength="30.2" lengthAdjust="spacingAndGlyphs">n</tspan><tspan x="995.68" y="1428.8" font-size="60.18" stroke-width="0.69" textLength="30.48" lengthAdjust="spacingAndGlyphs">g</tspan><tspan x="1031.52" y="1428.8" stroke-width="1.13" textLength="21.86" lengthAdjust="spacingAndGlyphs">t</tspan><tspan x="1060.32" y="1428.8" stroke-width="0.46" textLength="29.45" lengthAdjust="spacingAndGlyphs">h</tspan><tspan x="1102.53" y="1421.8" font-size="61.92" textLength="19.45" lengthAdjust="spacingAndGlyphs">(</tspan><tspan x="1122.61" y="1428.8" font-size="60.18" stroke-width="0.67" textLength="30.2" lengthAdjust="spacingAndGlyphs">n</tspan><tspan x="1154.15" y="1428.8" font-size="60.18" textLength="31.59" lengthAdjust="spacingAndGlyphs">m</tspan><tspan x="1187.03" y="1421.8" font-size="61.92" textLength="19.32" lengthAdjust="spacingAndGlyphs">)</tspan></text>
<text aria-label="Transmission(dB)" font-size="64.5" y="68.2" transform="rotate(-90)" stroke="#fff" stroke-width="0"><tspan x="-903.95" y="68.2" textLength="28.62" lengthAdjust="spacingAndGlyphs">T</tspan><tspan x="-870.14" y="68.2" font-size="60.18" stroke-width="1.05" textLength="24.45" lengthAdjust="spacingAndGlyphs">r</tspan><tspan x="-841.13" y="68.2" font-size="60.18" stroke-width="0.97" textLength="29.92" lengthAdjust="spacingAndGlyphs">a</tspan><tspan x="-809.4" y="68.2" font-size="60.18" stroke-width="0.7" textLength="30.53" lengthAdjust="spacingAndGlyphs">n</tspan><tspan x="-775.28" y="68.2" font-size="60.18" stroke-width="0.97" textLength="26.23" lengthAdjust="spacingAndGlyphs">s</tspan><tspan x="-745.94" y="68.2" font-size="60.18" textLength="31.27" lengthAdjust="spacingAndGlyphs">m</tspan><tspan x="-708.72" y="68.2" stroke-width="1.13" textLength="21.38" lengthAdjust="spacingAndGlyphs">i</tspan><tspan x="-679.13" y="68.2" font-size="60.18" stroke-width="0.97" textLength="26.23" lengthAdjust="spacingAndGlyphs">s</tspan><tspan x="-648.18" y="68.2" font-size="60.18" stroke-width="0.97" textLength="26.23" lengthAdjust="spacingAndGlyphs">s</tspan><tspan x="-613.7" y="68.2" stroke-width="1.13" textLength="21.15" lengthAdjust="spacingAndGlyphs">i</tspan><tspan x="-586.44" y="68.2" font-size="60.18" stroke-width="0.71" textLength="30.67" lengthAdjust="spacingAndGlyphs">o</tspan><tspan x="-554.4" y="68.2" font-size="60.18" stroke-width="0.69" textLength="30.42" lengthAdjust="spacingAndGlyphs">n</tspan><tspan x="-511.83" y="61.2" font-size="61.92" textLength="19.97" lengthAdjust="spacingAndGlyphs">(</tspan><tspan x="-489.16" y="68.2" stroke-width="0.38" textLength="28.56" lengthAdjust="spacingAndGlyphs">d</tspan><tspan x="-460.48" y="68.2" textLength="31.91" lengthAdjust="spacingAndGlyphs">B</tspan><tspan x="-426.99" y="61.2" font-size="61.92" textLength="19.58" lengthAdjust="spacingAndGlyphs">)</tspan></text>
<text aria-label="1500" font-size="54.3" y="1346.7" stroke="#fff" stroke-width="0"><tspan x="185.21" y="1346.7" stroke-width="0.16" textLength="22.16" lengthAdjust="spacingAndGlyphs">1</tspan><tspan x="209.96" y="1346.7" stroke-width="0.43" textLength="25.32" lengthAdjust="spacingAndGlyphs">5</tspan><tspan x="236.19" y="1346.7" stroke-width="0.41" textLength="25.01" lengthAdjust="spacingAndGlyphs">0</tspan><tspan x="262.39" y="1346.7" stroke-width="0.41" textLength="25.01" lengthAdjust="spacingAndGlyphs">0</tspan></text>
<text aria-label="1510" font-size="54.3" y="1346.7" stroke="#fff" stroke-width="0"><tspan x="337.05" y="1346.7" stroke-width="0.16" textLength="22.16" lengthAdjust="spacingAndGlyphs">1</tspan><tspan x="361.8" y="1346.7" stroke-width="0.43" textLength="25.32" lengthAdjust="spacingAndGlyphs">5</tspan><tspan x="389.45" y="1346.7" stroke-width="0.16" textLength="22.16" lengthAdjust="spacingAndGlyphs">1</tspan><tspan x="414.23" y="1346.7" stroke-width="0.41" textLength="25.01" lengthAdjust="spacingAndGlyphs">0</tspan></text>
<text aria-label="1520" font-size="54.3" y="1346.7" stroke="#fff" stroke-width="0"><tspan x="488.89" y="1346.7" stroke-width="0.16" textLength="22.16" lengthAdjust="spacingAndGlyphs">1</tspan><tspan x="513.64" y="1346.7" stroke-width="0.43" textLength="25.32" lengthAdjust="spacingAndGlyphs">5</tspan><tspan x="540.03" y="1346.7" stroke-width="0.46" textLength="25.57" lengthAdjust="spacingAndGlyphs">2</tspan><tspan x="566.07" y="1346.7" stroke-width="0.41" textLength="25.01" lengthAdjust="spacingAndGlyphs">0</tspan></text>
<text aria-label="1530" font-size="54.3" y="1346.7" stroke="#fff" stroke-width="0"><tspan x="640.73" y="1346.7" stroke-width="0.16" textLength="22.16" lengthAdjust="spacingAndGlyphs">1</tspan><tspan x="665.48" y="1346.7" stroke-width="0.43" textLength="25.32" lengthAdjust="spacingAndGlyphs">5</tspan><tspan x="691.75" y="1346.7" stroke-width="0.39" textLength="24.81" lengthAdjust="spacingAndGlyphs">3</tspan><tspan x="717.91" y="1346.7" stroke-width="0.41" textLength="25.01" lengthAdjust="spacingAndGlyphs">0</tspan></text>
<text aria-label="1540" font-size="54.3" y="1346.7" stroke="#fff" stroke-width="0"><tspan x="792.57" y="1346.7" stroke-width="0.16" textLength="22.16" lengthAdjust="spacingAndGlyphs">1</tspan><tspan x="817.32" y="1346.7" stroke-width="0.43" textLength="25.32" lengthAdjust="spacingAndGlyphs">5</tspan><tspan x="843.92" y="1346.7" stroke-width="0.33" textLength="24.09" lengthAdjust="spacingAndGlyphs">4</tspan><tspan x="869.75" y="1346.7" stroke-width="0.41" textLength="25.01" lengthAdjust="spacingAndGlyphs">0</tspan></text>
<text aria-label="1550" font-size="54.3" y="1346.7" stroke="#fff" stroke-width="0"><tspan x="944.41" y="1346.7" stroke-width="0.16" textLength="22.16" lengthAdjust="spacingAndGlyphs">1</tspan><tspan x="969.16" y="1346.7" stroke-width="0.43" textLength="25.32" lengthAdjust="spacingAndGlyphs">5</tspan><tspan x="995.36" y="1346.7" stroke-width="0.43" textLength="25.32" lengthAdjust="spacingAndGlyphs">5</tspan><tspan x="1021.59" y="1346.7" stroke-width="0.41" textLength="25.01" lengthAdjust="spacingAndGlyphs">0</tspan></text>
<text aria-label="1560" font-size="54.3" y="1346.7" stroke="#fff" stroke-width="0"><tspan x="1096.25" y="1346.7" stroke-width="0.16" textLength="22.16" lengthAdjust="spacingAndGlyphs">1</tspan><tspan x="1121" y="1346.7" stroke-width="0.43" textLength="25.32" lengthAdjust="spacingAndGlyphs">5</tspan><tspan x="1147.45" y="1346.7" stroke-width="0.35" textLength="24.34" lengthAdjust="spacingAndGlyphs">6</tspan><tspan x="1173.43" y="1346.7" stroke-width="0.41" textLength="25.01" lengthAdjust="spacingAndGlyphs">0</tspan></text>
<text aria-label="1570" font-size="54.3" y="1346.7" stroke="#fff" stroke-width="0"><tspan x="1248.09" y="1346.7" stroke-width="0.16" textLength="22.16" lengthAdjust="spacingAndGlyphs">1</tspan><tspan x="1272.84" y="1346.7" stroke-width="0.43" textLength="25.32" lengthAdjust="spacingAndGlyphs">5</tspan><tspan x="1298.43" y="1346.7" stroke-width="0.44" textLength="25.41" lengthAdjust="spacingAndGlyphs">7</tspan><tspan x="1325.27" y="1346.7" stroke-width="0.41" textLength="25.01" lengthAdjust="spacingAndGlyphs">0</tspan></text>
<text aria-label="1580" font-size="54.3" y="1346.7" stroke="#fff" stroke-width="0"><tspan x="1399.93" y="1346.7" stroke-width="0.16" textLength="22.16" lengthAdjust="spacingAndGlyphs">1</tspan><tspan x="1424.68" y="1346.7" stroke-width="0.43" textLength="25.32" lengthAdjust="spacingAndGlyphs">5</tspan><tspan x="1451.13" y="1346.7" stroke-width="0.39" textLength="24.77" lengthAdjust="spacingAndGlyphs">8</tspan><tspan x="1477.11" y="1346.7" stroke-width="0.41" textLength="25.01" lengthAdjust="spacingAndGlyphs">0</tspan></text>
<text aria-label="1590" font-size="54.3" y="1346.7" stroke="#fff" stroke-width="0"><tspan x="1551.77" y="1346.7" stroke-width="0.16" textLength="22.16" lengthAdjust="spacingAndGlyphs">1</tspan><tspan x="1576.52" y="1346.7" stroke-width="0.43" textLength="25.32" lengthAdjust="spacingAndGlyphs">5</tspan><tspan x="1603.27" y="1346.7" stroke-width="0.37" textLength="24.6" lengthAdjust="spacingAndGlyphs">9</tspan><tspan x="1628.95" y="1346.7" stroke-width="0.41" textLength="25.01" lengthAdjust="spacingAndGlyphs">0</tspan></text>
<text aria-label="1600" font-size="54.3" y="1346.7" stroke="#fff" stroke-width="0"><tspan x="1703.61" y="1346.7" stroke-width="0.16" textLength="22.16" lengthAdjust="spacingAndGlyphs">1</tspan><tspan x="1728.61" y="1346.7" stroke-width="0.35" textLength="24.34" lengthAdjust="spacingAndGlyphs">6</tspan><tspan x="1754.59" y="1346.7" stroke-width="0.41" textLength="25.01" lengthAdjust="spacingAndGlyphs">0</tspan><tspan x="1780.79" y="1346.7" stroke-width="0.41" textLength="25.01" lengthAdjust="spacingAndGlyphs">0</tspan></text>
<text aria-label="0.0" font-size="54.3" y="59.8" stroke="#fff" stroke-width="0"><tspan x="117.19" y="59.8" stroke-width="0.41" textLength="25.01" lengthAdjust="spacingAndGlyphs">0</tspan><tspan x="141.8" y="59.8" textLength="15.2" lengthAdjust="spacingAndGlyphs">.</tspan><tspan x="169.59" y="59.8" stroke-width="0.41" textLength="25.01" lengthAdjust="spacingAndGlyphs">0</tspan></text>
<text aria-label="-0.1" font-size="54.3" y="180.18" stroke="#fff" stroke-width="0"><tspan x="89.64" y="167.28" font-size="26.77" textLength="28.33" lengthAdjust="spacingAndGlyphs">-</tspan><tspan x="117.19" y="180.18" stroke-width="0.41" textLength="25.01" lengthAdjust="spacingAndGlyphs">0</tspan><tspan x="141.8" y="180.18" textLength="15.2" lengthAdjust="spacingAndGlyphs">.</tspan><tspan x="171.01" y="180.18" stroke-width="0.16" textLength="22.16" lengthAdjust="spacingAndGlyphs">1</tspan></text>
<text aria-label="-0.2" font-size="54.3" y="300.55" stroke="#fff" stroke-width="0"><tspan x="89.64" y="287.66" font-size="26.77" textLength="28.33" lengthAdjust="spacingAndGlyphs">-</tspan><tspan x="117.19" y="300.55" stroke-width="0.41" textLength="25.01" lengthAdjust="spacingAndGlyphs">0</tspan><tspan x="141.8" y="300.55" textLength="15.2" lengthAdjust="spacingAndGlyphs">.</tspan><tspan x="169.75" y="300.55" stroke-width="0.46" textLength="25.57" lengthAdjust="spacingAndGlyphs">2</tspan></text>
<text aria-label="-0.3" font-size="54.3" y="420.93" stroke="#fff" stroke-width="0"><tspan x="89.64" y="408.03" font-size="26.77" textLength="28.33" lengthAdjust="spacingAndGlyphs">-</tspan><tspan x="117.19" y="420.93" stroke-width="0.41" textLength="25.01" lengthAdjust="spacingAndGlyphs">0</tspan><tspan x="141.8" y="420.93" textLength="15.2" lengthAdjust="spacingAndGlyphs">.</tspan><tspan x="169.63" y="420.93" stroke-width="0.39" textLength="24.81" lengthAdjust="spacingAndGlyphs">3</tspan></text>
<text aria-label="-0.4" font-size="54.3" y="541.3" stroke="#fff" stroke-width="0"><tspan x="89.64" y="528.41" font-size="26.77" textLength="28.33" lengthAdjust="spacingAndGlyphs">-</tspan><tspan x="117.19" y="541.3" stroke-width="0.41" textLength="25.01" lengthAdjust="spacingAndGlyphs">0</tspan><tspan x="141.8" y="541.3" textLength="15.2" lengthAdjust="spacingAndGlyphs">.</tspan><tspan x="169.96" y="541.3" stroke-width="0.33" textLength="24.09" lengthAdjust="spacingAndGlyphs">4</tspan></text>
<text aria-label="-25" font-size="54.3" y="832.7" stroke="#fff" stroke-width="0"><tspan x="115.84" y="819.81" font-size="26.77" textLength="28.33" lengthAdjust="spacingAndGlyphs">-</tspan><tspan x="143.55" y="832.7" stroke-width="0.46" textLength="25.57" lengthAdjust="spacingAndGlyphs">2</tspan><tspan x="169.56" y="832.7" stroke-width="0.43" textLength="25.32" lengthAdjust="spacingAndGlyphs">5</tspan></text>
<text aria-label="-30" font-size="54.3" y="982.9" stroke="#fff" stroke-width="0"><tspan x="115.84" y="970.01" font-size="26.77" textLength="28.33" lengthAdjust="spacingAndGlyphs">-</tspan><tspan x="143.43" y="982.9" stroke-width="0.39" textLength="24.81" lengthAdjust="spacingAndGlyphs">3</tspan><tspan x="169.59" y="982.9" stroke-width="0.41" textLength="25.01" lengthAdjust="spacingAndGlyphs">0</tspan></text>
<text aria-label="-35" font-size="54.3" y="1133.1" stroke="#fff" stroke-width="0"><tspan x="115.84" y="1120.21" font-size="26.77" textLength="28.33" lengthAdjust="spacingAndGlyphs">-</tspan><tspan x="143.43" y="1133.1" stroke-width="0.39" textLength="24.81" lengthAdjust="spacingAndGlyphs">3</tspan><tspan x="169.56" y="1133.1" stroke-width="0.43" textLength="25.32" lengthAdjust="spacingAndGlyphs">5</tspan></text>
<text aria-label="-40" font-size="54.3" y="1283.3" stroke="#fff" stroke-width="0"><tspan x="115.84" y="1270.41" font-size="26.77" textLength="28.33" lengthAdjust="spacingAndGlyphs">-</tspan><tspan x="143.76" y="1283.3" stroke-width="0.33" textLength="24.09" lengthAdjust="spacingAndGlyphs">4</tspan><tspan x="169.59" y="1283.3" stroke-width="0.41" textLength="25.01" lengthAdjust="spacingAndGlyphs">0</tspan></text>
</svg>
</body></html>
